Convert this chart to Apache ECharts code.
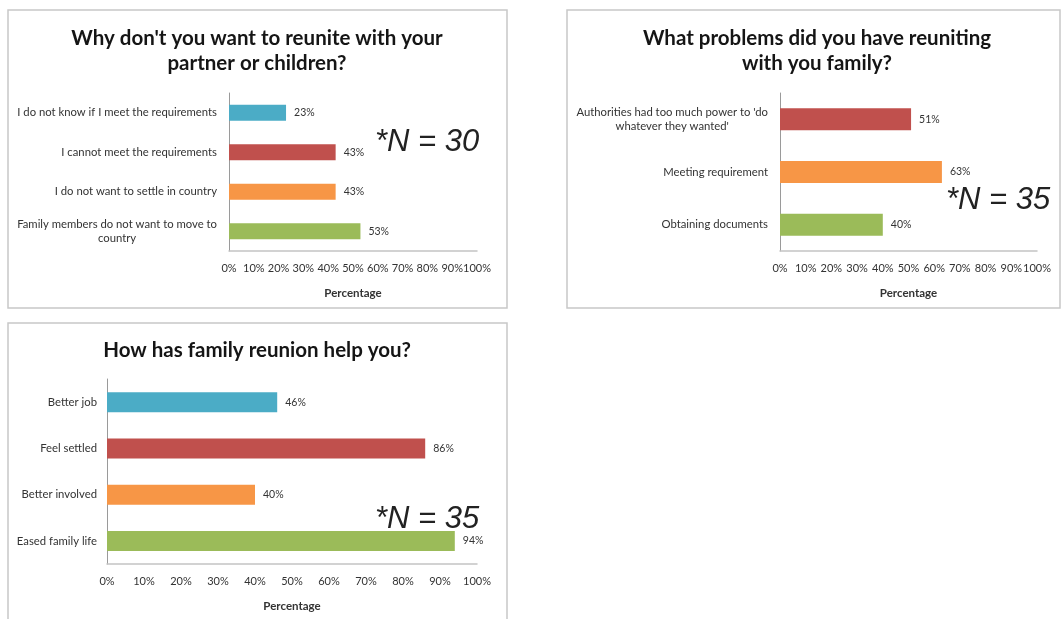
<!DOCTYPE html>
<html>
<head>
<meta charset="utf-8">
<script src="https://cdn.jsdelivr.net/npm/echarts@6/dist/echarts.min.js"></script>
<style>
html,body{margin:0;padding:0;background:#fff;}
#c{width:1061px;height:619px;}
</style>
</head>
<body>
<div id="c"></div>
<script>
// ---- Data ----
const q1Title = ["Why don't you want to reunite with your", "partner or children?"];
const q1Categories = ["I do not know if I meet the requirements", "I cannot meet the requirements", "I do not want to settle in country", "Family members do not want to move to\ncountry"];
const q1Values = [23, 43, 43, 53];
const q1N = "*N = 30";

const q2Title = ["What problems did you have reuniting", "with you family?"];
const q2Categories = ["Authorities had too much power to 'do\nwhatever they wanted'", "Meeting requirement", "Obtaining documents"];
const q2Values = [51, 63, 40];
const q2N = "*N = 35";

const q3Title = ["How has family reunion help you?"];
const q3Categories = ["Better job", "Feel settled", "Better involved", "Eased family life"];
const q3Values = [46, 86, 40, 94];
const q3N = "*N = 35";

const xAxisName = "Percentage";
const xMin = 0, xMax = 100, xStep = 10;

// ---- Styles ----
const FONT = "Lato, 'Open Sans', sans-serif";
const TXT = '#333333';
const C_TEAL = '#4bacc6', C_RED = '#c0504d', C_ORANGE = '#f79646', C_GREEN = '#9bbb59';
const q1Colors = [C_TEAL, C_RED, C_ORANGE, C_GREEN];
const q2Colors = [C_RED, C_ORANGE, C_GREEN];
const q3Colors = [C_TEAL, C_RED, C_ORANGE, C_GREEN];

function catLabelFormatter(v) {
  if (v.indexOf('\n') < 0) return v;
  return v.split('\n').map(l => '{c|' + l + '}').join('\n');
}

function xAxis(gi, margin) {
  return {
    type: 'value', gridIndex: gi, min: xMin, max: xMax, interval: xStep,
    name: xAxisName, nameLocation: 'middle', nameGap: 36,
    nameTextStyle: {fontFamily: FONT, fontSize: 11.5, fontWeight: 'bold', color: TXT},
    axisLine: {show: true, lineStyle: {color: '#c4c4c4', width: 1.5}},
    axisTick: {show: false},
    splitLine: {show: false},
    axisLabel: {formatter: '{value}%', fontFamily: FONT, fontSize: 11, color: TXT, margin: margin}
  };
}
function yAxis(gi, cats, margin) {
  return {
    type: 'category', gridIndex: gi, data: cats, inverse: true,
    axisLine: {show: true, lineStyle: {color: '#9a9a9a', width: 1}},
    axisTick: {show: false},
    axisLabel: {
      fontFamily: FONT, fontSize: 11.3, color: TXT, margin: margin, lineHeight: 14,
      formatter: catLabelFormatter,
      rich: {c: {align: 'center', fontFamily: FONT, fontSize: 11.3, color: TXT, lineHeight: 14}}
    }
  };
}
function series(gi, vals, colors, bw) {
  return {
    type: 'bar', xAxisIndex: gi, yAxisIndex: gi, barWidth: bw,
    data: vals.map((v, i) => ({value: v, itemStyle: {color: colors[i]}})),
    label: {show: true, position: 'right', distance: 8, formatter: '{c}%', fontFamily: FONT, fontSize: 10.5, color: TXT},
    silent: true
  };
}
function titleTexts(lines, cx, y0, lh) {
  return lines.map((t, i) => ({
    type: 'text', x: cx, y: y0 + i * lh,
    style: {text: t, fontFamily: FONT, fontSize: 20.5, fontWeight: 'bold', fill: '#151515', align: 'center', verticalAlign: 'middle'}
  }));
}
function nText(t, x, y) {
  return {type: 'text', x: x, y: y, style: {text: t, fontFamily: "'Liberation Sans', Arial, sans-serif", fontSize: 31, fontStyle: 'italic', fill: '#222', align: 'left', verticalAlign: 'middle'}};
}
function border(x, y, w, h) {
  return {type: 'rect', shape: {x: x, y: y, width: w, height: h}, style: {fill: 'none', stroke: '#c8c8c8', lineWidth: 1.5}, z: -1};
}

const chart = echarts.init(document.getElementById('c'), null, {renderer: 'canvas'});
chart.setOption({
  animation: false,
  backgroundColor: '#fff',
  grid: [
    {left: 229, top: 93, width: 248, height: 158},
    {left: 780, top: 93, width: 257, height: 158},
    {left: 107, top: 379, width: 370, height: 185}
  ],
  xAxis: [xAxis(0, 12), xAxis(1, 12), xAxis(2, 12)],
  yAxis: [yAxis(0, q1Categories, 12), yAxis(1, q2Categories, 12), yAxis(2, q3Categories, 10)],
  series: [series(0, q1Values, q1Colors, 16), series(1, q2Values, q2Colors, 22), series(2, q3Values, q3Colors, 20)],
  graphic: [
    border(8, 10, 499, 298),
    border(567, 10, 493, 298),
    border(8, 323, 499, 310),
    ...titleTexts(q1Title, 257, 38, 25),
    ...titleTexts(q2Title, 817, 38, 25),
    ...titleTexts(q3Title, 257, 350, 25),
    nText(q1N, 375, 142),
    nText(q2N, 946, 200),
    nText(q3N, 375, 519)
  ]
});
</script>
</body>
</html>
